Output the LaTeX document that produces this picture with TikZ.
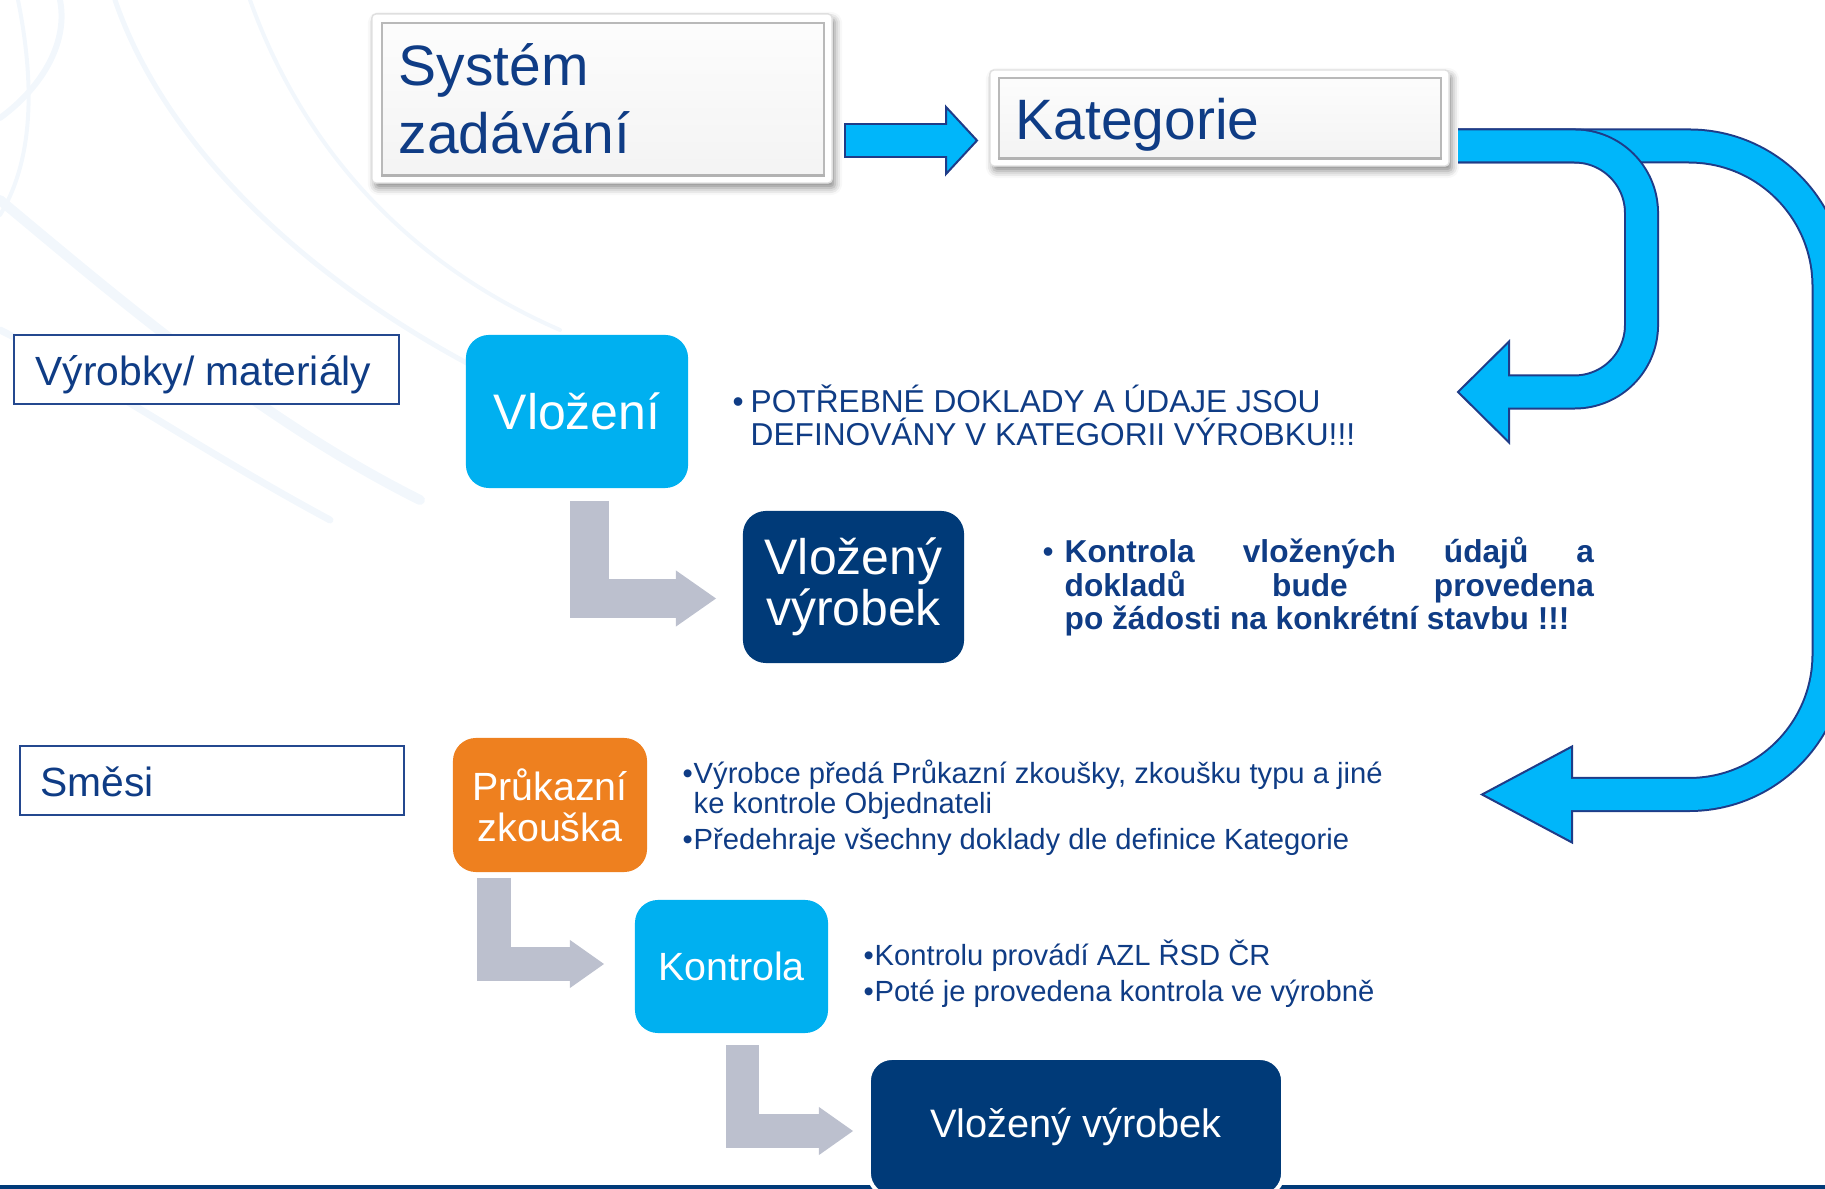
\documentclass[tikz,border=0pt]{standalone}
\usepackage{fontspec}
\setmainfont{Liberation Sans}
\usetikzlibrary{arrows.meta,shadows.blur,calc,positioning}

\definecolor{navy}{HTML}{003A78}
\definecolor{txtblue}{HTML}{0F3C85}
\definecolor{skyblue}{HTML}{00B0F0}
\definecolor{arrblue}{HTML}{00B6FA}
\definecolor{arredge}{HTML}{1F3C88}
\definecolor{orangebox}{HTML}{EE801F}
\definecolor{grayarr}{HTML}{BCC0CE}
\definecolor{lblline}{HTML}{24488F}
\definecolor{swirl}{HTML}{F2F7FC}

\newcommand\fsz[2]{\fontsize{#1}{#2}\selectfont}

\tikzset{
  panel/.style={draw=gray!25, fill=white, rounded corners=0.04cm, blur shadow={shadow xshift=0.03cm, shadow yshift=-0.05cm, shadow blur radius=0.07cm, shadow opacity=45}},
  bevel/.style={draw=gray!55, line width=0.015cm, top color=gray!2, bottom color=gray!9},
  lblbox/.style={draw=lblline, line width=0.02cm, fill=white},
  stepbox/.style={rounded corners=0.23cm, text=white, align=center, inner sep=0pt},
  txt/.style={inner sep=0pt, text=txtblue, anchor=base west, align=left},
  edgeout/.style={draw=arredge, line width=0.35cm},
  edgein/.style={draw=arrblue, line width=0.31cm},
  tiphead/.style={fill=arrblue, draw=arredge, line width=0.02cm, line join=miter},
  elbow/.style={draw=grayarr, line join=miter}
}

\begin{document}
\begin{tikzpicture}[x=0.01cm, y=-0.01cm]
\useasboundingbox (0,0) rectangle (1825,1189);
\clip (0,0) rectangle (1825,1189);

% faint swirl in the corner
\begin{scope}[draw=swirl, line cap=round]
\draw[line width=0.06cm] (0,118) .. controls (45,85) and (68,40) .. (60,0);
\draw[line width=0.04cm] (0,215) .. controls (40,150) and (30,60) .. (18,0);
\draw[line width=0.05cm] (115,0) .. controls (170,160) and (330,300) .. (520,390);
\draw[line width=0.04cm] (250,0) .. controls (300,140) and (400,260) .. (560,330);
\draw[line width=0.10cm] (0,200) .. controls (120,300) and (260,420) .. (420,500);
\draw[line width=0.07cm] (0,330) .. controls (100,380) and (200,450) .. (330,520);
\end{scope}

% bottom rule
\draw[navy, line width=0.04cm] (0,1187) -- (1825,1187);

% top panels
\node[panel, minimum width=4.6cm, minimum height=1.69cm] (sys) at (602,98.5) {};
\node[bevel, minimum width=4.42cm, minimum height=1.52cm] (sysin) at (603,99) {};
\draw[gray!60, line width=0.03cm] (sysin.south west) -- (sysin.south east);
\node[txt, font=\fsz{16.2pt}{19.6pt}] (systxt) at (398,154) {Systém\\zadávání};

\node[panel, minimum width=4.59cm, minimum height=0.96cm] (kat) at (1219.5,118) {};
\node[bevel, minimum width=4.42cm, minimum height=0.8cm] (katin) at (1220,118) {};
\draw[gray!60, line width=0.03cm] (katin.south west) -- (katin.south east);
\node[txt, font=\fsz{16.2pt}{19.6pt}] (kattxt) at (1015,140) {Kategorie};

% left labels
\node[lblbox, minimum width=3.85cm, minimum height=0.69cm] (vyr) at (206.5,369.5) {};
\node[txt, font=\fsz{11.6pt}{14pt}] (vyrtxt) at (35,386) {Výrobky/ materiály};
\node[lblbox, minimum width=3.84cm, minimum height=0.69cm] (smesi) at (212,780.5) {};
\node[txt, font=\fsz{11.6pt}{14pt}] (smtxt) at (40,797) {Směsi};

% steps
\node[stepbox, fill=skyblue, minimum width=2.22cm, minimum height=1.53cm, font=\fsz{14.2pt}{14.5pt}] (vlozeni) at (577,411.5) {Vložení};
\node[stepbox, fill=navy, minimum width=2.21cm, minimum height=1.52cm, font=\fsz{14.2pt}{14.5pt}] (vlozeny) at (853.5,587) {Vložený\\výrobek};
\node[stepbox, fill=orangebox, minimum width=1.94cm, minimum height=1.34cm, font=\fsz{11.2pt}{11.7pt}] (prukaz) at (550,805) {Průkazní\\zkouška};
\node[stepbox, fill=skyblue, minimum width=1.93cm, minimum height=1.33cm, font=\fsz{11.2pt}{11.7pt}] (kontrola) at (731.5,966.5) {Kontrola};
\node[stepbox, fill=navy, draw=white, line width=0.04cm, minimum width=4.14cm, minimum height=1.38cm, font=\fsz{11.3pt}{11.7pt}] (vlozeny2) at (1076,1127) {Vložený výrobek};

% grey elbows
\coordinate (g1s) at (589.5,501);
\coordinate (g1e) at (716,598.5);
\draw[elbow, line width=0.39cm, -{Triangle[width=0.56cm, length=0.4cm, line width=0pt]}] (g1s) |- (g1e);
\coordinate (g2s) at (494,878);
\coordinate (g2e) at (604,964);
\draw[elbow, line width=0.34cm, -{Triangle[width=0.48cm, length=0.34cm, line width=0pt]}] (g2s) |- (g2e);
\coordinate (g3s) at (742.5,1045);
\coordinate (g3e) at (853,1131);
\draw[elbow, line width=0.33cm, -{Triangle[width=0.48cm, length=0.34cm, line width=0pt]}] (g3s) |- (g3e);

% blue arrows
\coordinate (abs) at (844,140.5);
\coordinate (abe) at (946,140.5);
\draw[edgeout] (abs) -- (abe);
\filldraw[tiphead] ($(abe)+(0,-33.5)$) -- ($(abe)+(31,0)$) -- ($(abe)+(0,33.5)$) -- cycle;
\draw[edgein] ($(abs)+(2,0)$) -- ($(abe)+(4,0)$);

\coordinate (a2s) at (1458,146);
\coordinate (a2c) at (1829,794.5);
\coordinate (a2e) at (1572,794.5);
\draw[edgeout, rounded corners=1.4cm] (a2s) -| (a2c) -- (a2e);
\filldraw[tiphead] ($(a2e)+(0,-48)$) -- ($(a2e)+(-90,0)$) -- ($(a2e)+(0,48)$) -- cycle;
\draw[edgein, rounded corners=1.4cm] (a2s) -| (a2c) -- ($(a2e)+(-4,0)$);

\coordinate (a1s) at (1458,146);
\coordinate (a1c) at (1641.5,392);
\coordinate (a1e) at (1509,392);
\draw[edgeout, rounded corners=0.67cm] (a1s) -| (a1c) -- (a1e);
\filldraw[tiphead] ($(a1e)+(0,-50.5)$) -- ($(a1e)+(-51,0)$) -- ($(a1e)+(0,50.5)$) -- cycle;
\draw[edgein, rounded corners=0.67cm] (a1s) -| (a1c) -- ($(a1e)+(-4,0)$);

% notes
\node[txt, font=\fsz{9pt}{9.4pt}] (dot1) at (732,413) {•};
\node[txt, font=\fsz{9pt}{9.4pt}] (note1) at (750,446) {POTŘEBNÉ DOKLADY A ÚDAJE JSOU\\DEFINOVÁNY V KATEGORII VÝROBKU!!!};
\node[txt, font=\fsz{9pt}{9.5pt}] (dot2) at (1042,563) {•};
\node[txt, font=\bfseries\fsz{9pt}{9.5pt}, text width=5.29cm, align=justify] (note2) at (1064,563) {Kontrola vložených údajů a\linebreak dokladů bude provedena\linebreak \mbox{po žádosti na konkrétní stavbu !!!}};
\node[txt, font=\fsz{8.3pt}{8.25pt}] (dot3) at (682,784) {•};
\node[txt, font=\fsz{8.3pt}{8.25pt}] (note3) at (693,813) {Výrobce předá Průkazní zkoušky, zkoušku typu a jiné\\ke kontrole Objednateli};
\node[txt, font=\fsz{8.3pt}{8.25pt}] (dot4) at (682,849) {•};
\node[txt, font=\fsz{8.3pt}{8.25pt}] (note4) at (693,849) {Předehraje všechny doklady dle definice Kategorie};
\node[txt, font=\fsz{8.3pt}{8.25pt}] (dot5) at (863,965) {•};
\node[txt, font=\fsz{8.3pt}{8.25pt}] (note5) at (874,965) {Kontrolu provádí AZL ŘSD ČR};
\node[txt, font=\fsz{8.3pt}{8.25pt}] (dot6) at (863,1001) {•};
\node[txt, font=\fsz{8.3pt}{8.25pt}] (note6) at (874,1001) {Poté je provedena kontrola ve výrobně};
\end{tikzpicture}
\end{document}
